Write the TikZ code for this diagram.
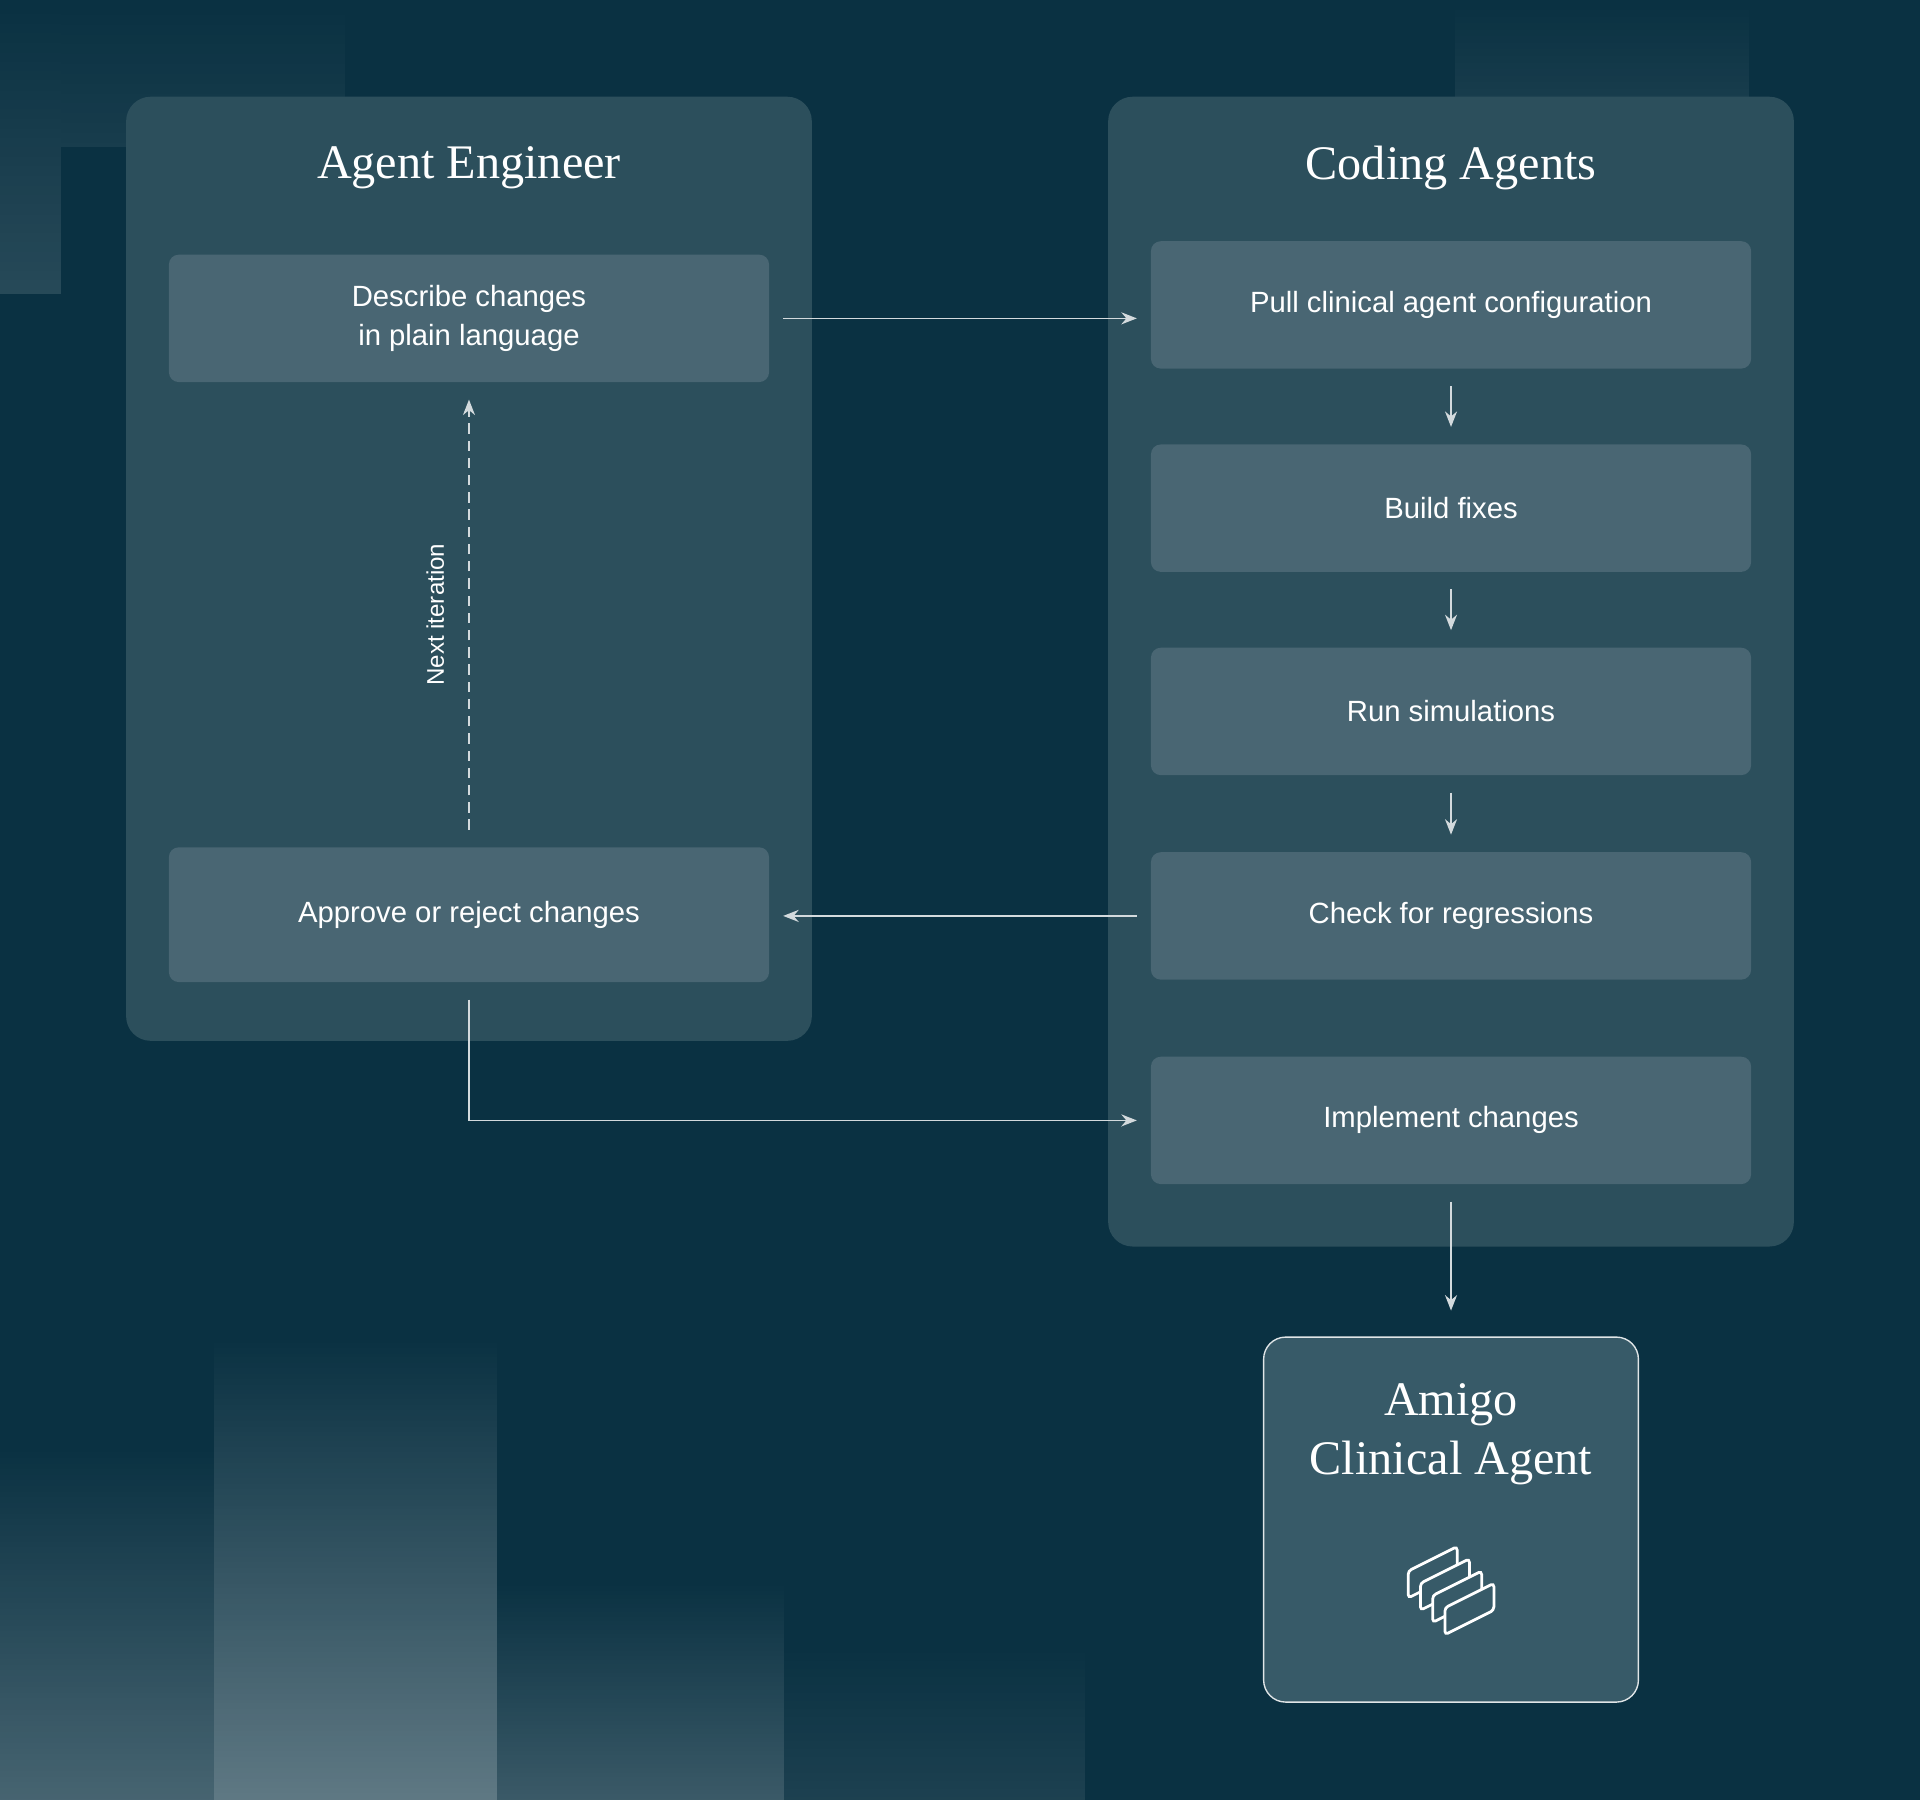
\documentclass[tikz,border=0pt]{standalone}
\usepackage{fontspec}
\setmainfont{Liberation Serif}
\setsansfont{Liberation Sans}
\usetikzlibrary{arrows.meta,positioning,fadings}
\definecolor{bgcol}{HTML}{0A3142}
\definecolor{panelcol}{HTML}{2C4F5C}
\definecolor{boxcol}{HTML}{496673}
\definecolor{agentcol}{HTML}{375A68}
\definecolor{linecol}{HTML}{D3DADD}
\tikzset{
  panel/.style={draw=none, fill=panelcol, rounded corners=0.5cm},
  stepbox/.style={fill=boxcol, rounded corners=0.2cm, minimum width=12.25cm, minimum height=2.6cm,
    text=white, font=\sffamily\fontsize{17}{23}\selectfont, align=center, inner sep=0pt},
  title/.style={text=white, font=\fontsize{28}{34}\selectfont, align=center},
  flow/.style={draw=linecol, line width=0.9pt, -{Stealth[length=9pt,width=7pt]}},
  logo/.style={draw=white, line width=1.6pt, fill=agentcol, rounded corners=2pt}
}
\begin{document}
\begin{tikzpicture}[x=0.025cm,y=-0.025cm]
\fill[bgcol] (0,0) rectangle (1568,1470);
\useasboundingbox (0,0) rectangle (1568,1470);
% background stripes
\fill[white, fill opacity=0.12, path fading=north] (0,0) rectangle (50,240);
\fill[white, fill opacity=0.06, path fading=north] (50,0) rectangle (282,120);
\fill[white, fill opacity=0.06, path fading=north] (1188,0) rectangle (1428,80);
\fill[white, fill opacity=0.25, path fading=north] (0,1180) rectangle (175,1470);
\fill[white, fill opacity=0.35, path fading=north] (175,1090) rectangle (406,1470);
\fill[white, fill opacity=0.2, path fading=north] (406,1290) rectangle (640,1470);
\fill[white, fill opacity=0.08, path fading=north] (640,1340) rectangle (886,1470);
% panels
\fill[panel] (103,79) rectangle (663,850);
\fill[panel] (905,79) rectangle (1465,1018);
\node[title] (eng) at (383,137) {Agent Engineer};
\node[title] (cod) at (1185,137) {Coding Agents};
% steps
\node[stepbox] (describe) at (383,260) {Describe changes\\in plain language};
\node[stepbox, minimum height=2.75cm] (approve) at (383,747) {Approve or reject changes};
\node[stepbox] (pull) at (1185,249) {Pull clinical agent configuration};
\node[stepbox] (build) at (1185,415) {Build fixes};
\node[stepbox] (run) at (1185,581) {Run simulations};
\node[stepbox] (check) at (1185,748) {Check for regressions};
\node[stepbox] (impl) at (1185,915) {Implement changes};
% result
\node[fill=agentcol, draw=linecol!70, line width=0.8pt, rounded corners=0.45cm,
  minimum width=7.65cm, minimum height=7.45cm] (amigo) at (1185,1241) {};
\node[title, anchor=north] (amigotxt) at (1185,1125) {Amigo\\Clinical Agent};
\foreach \i in {0,1,2,3}
  \draw[logo] ({1150+10*\i},{1283+10*\i}) -- ++(0,22) -- ++(40,-20) -- ++(0,-22) -- cycle;
% connectors
\draw[flow] ([xshift=8pt]describe.east) -- ([xshift=-8pt]describe.east -| pull.west);
\draw[flow] ([yshift=-10pt]pull.south) -- ([yshift=10pt]build.north);
\draw[flow] ([yshift=-10pt]build.south) -- ([yshift=10pt]run.north);
\draw[flow] ([yshift=-10pt]run.south) -- ([yshift=10pt]check.north);
\draw[flow] ([xshift=-8pt]check.west) -- ([xshift=8pt]check.west -| approve.east);
\draw[flow] ([yshift=-10pt]approve.south) |- ([xshift=-8pt]impl.west);
\draw[flow] ([yshift=-10pt]impl.south) -- ([yshift=15pt]amigo.north);
\draw[flow, dash pattern=on 6pt off 4pt] ([yshift=10pt]approve.north) -- node[midway, rotate=90, anchor=south, inner sep=14pt, text=white, font=\sffamily\fontsize{14}{16}\selectfont] (nextlbl) {Next iteration} ([yshift=-10pt]describe.south);
\end{tikzpicture}
\end{document}
